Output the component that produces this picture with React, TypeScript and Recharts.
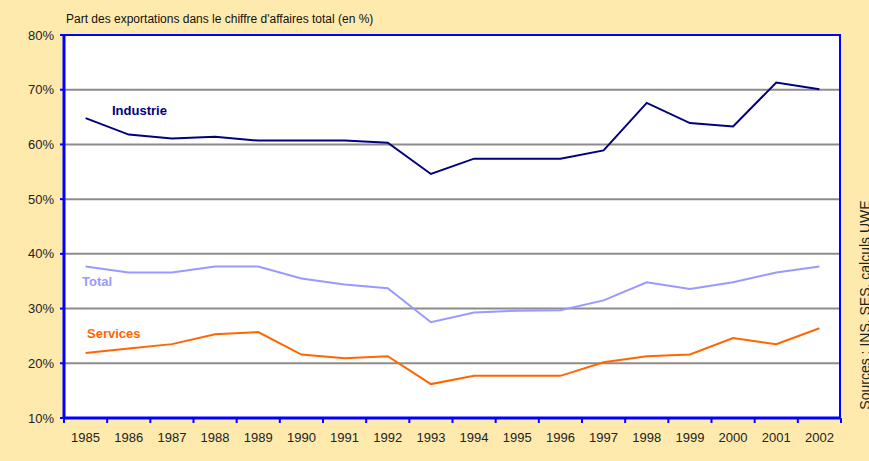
import React from "react";
import { LineChart, Line, XAxis, YAxis, CartesianGrid } from "recharts";

const years = ["1985","1986","1987","1988","1989","1990","1991","1992","1993","1994","1995","1996","1997","1998","1999","2000","2001","2002"];
const industrie = [64.8, 61.8, 61.1, 61.4, 60.7, 60.7, 60.7, 60.3, 54.6, 57.4, 57.4, 57.4, 58.9, 67.6, 63.9, 63.3, 71.3, 70.1];
const total = [37.7, 36.6, 36.6, 37.7, 37.7, 35.5, 34.4, 33.7, 27.5, 29.3, 29.6, 29.7, 31.5, 34.8, 33.6, 34.8, 36.6, 37.7];
const services = [21.9, 22.7, 23.5, 25.3, 25.7, 21.6, 20.9, 21.3, 16.2, 17.7, 17.7, 17.7, 20.2, 21.3, 21.6, 24.6, 23.5, 26.4];
const yTicks = [10, 20, 30, 40, 50, 60, 70, 80];

const data = years.map((y, i) => ({ year: y, industrie: industrie[i], total: total[i], services: services[i] }));

const W = 869;
const H = 461;
const X_H = 43;
const M = { top: 35, right: 28, bottom: 0, left: 0 };
const Y_W = 64;
const BLUE = "#0000FF";
const PLOT_W = W - M.right - Y_W;
const PLOT_H = H - M.top - X_H;
const HALF_BAND = PLOT_W / years.length / 2;

const XTick = (props: any) => {
  const { x, y, payload, index } = props;
  const last = index === years.length - 1;
  return (
    <g>
      <line x1={x - HALF_BAND} x2={x - HALF_BAND} y1={y - 8} y2={y - 3} stroke={BLUE} strokeWidth={2} />
      {last && <line x1={x + HALF_BAND} x2={x + HALF_BAND} y1={y - 8} y2={y - 3} stroke={BLUE} strokeWidth={2} />}
      <text x={x} y={y + 16} textAnchor="middle" fontSize={13} fill="#222" fontFamily="Liberation Sans, Arial, sans-serif">
        {payload.value}
      </text>
    </g>
  );
};

export default function App() {
  return (
    <div style={{ position: "absolute", left: 0, top: 0, width: W, height: H, background: "#FFEAAD", overflow: "hidden", fontFamily: "Liberation Sans, Arial, sans-serif" }}>
      <LineChart width={W} height={H} data={data} margin={M}>
        <CartesianGrid vertical={false} horizontal={true} stroke="#8C8C8C" strokeWidth={2} fill="#FFFFFF" />
        <XAxis
          dataKey="year"
          height={X_H}
          padding={{ left: HALF_BAND, right: HALF_BAND }}
          axisLine={{ stroke: BLUE, strokeWidth: 3 }}
          tickLine={false}
          tick={<XTick />}
          interval={0}
        />
        <YAxis
          width={Y_W}
          domain={[10, 80]}
          ticks={yTicks}
          tickFormatter={(v: number) => `${v}%`}
          axisLine={{ stroke: BLUE, strokeWidth: 3 }}
          tickLine={{ stroke: BLUE, strokeWidth: 2 }}
          tickSize={4}
          tickMargin={6}
          tick={{ fontSize: 13, fill: "#222", fontFamily: "Liberation Sans, Arial, sans-serif" }}
          interval={0}
        />
        <Line type="linear" dataKey="industrie" stroke="#000080" strokeWidth={2} dot={false} isAnimationActive={false} />
        <Line type="linear" dataKey="total" stroke="#9999FF" strokeWidth={2} dot={false} isAnimationActive={false} />
        <Line type="linear" dataKey="services" stroke="#FF6600" strokeWidth={2} dot={false} isAnimationActive={false} />
      </LineChart>
      <div
        style={{
          position: "absolute",
          left: Y_W,
          top: M.top - 1,
          width: PLOT_W,
          height: PLOT_H,
          borderTop: `2px solid ${BLUE}`,
          borderRight: `2px solid ${BLUE}`,
          boxSizing: "border-box",
          pointerEvents: "none",
        }}
      />
      <div style={{ position: "absolute", left: 66, top: 12, fontSize: 12, color: "#111", whiteSpace: "nowrap" }}>
        Part des exportations dans le chiffre d'affaires total (en %)
      </div>
      <div style={{ position: "absolute", left: 112, top: 103, fontSize: 13, fontWeight: "bold", color: "#000080" }}>Industrie</div>
      <div style={{ position: "absolute", left: 82, top: 274, fontSize: 13, fontWeight: "bold", color: "#9999FF" }}>Total</div>
      <div style={{ position: "absolute", left: 87, top: 326, fontSize: 13, fontWeight: "bold", color: "#FF6600" }}>Services</div>
      <div
        style={{
          position: "absolute",
          left: 865,
          top: 305,
          transform: "translate(-50%, -50%) rotate(-90deg)",
          fontSize: 14,
          color: "#222",
          whiteSpace: "nowrap",
        }}
      >
        Sources : INS, SES, calculs UWE
      </div>
    </div>
  );
}
